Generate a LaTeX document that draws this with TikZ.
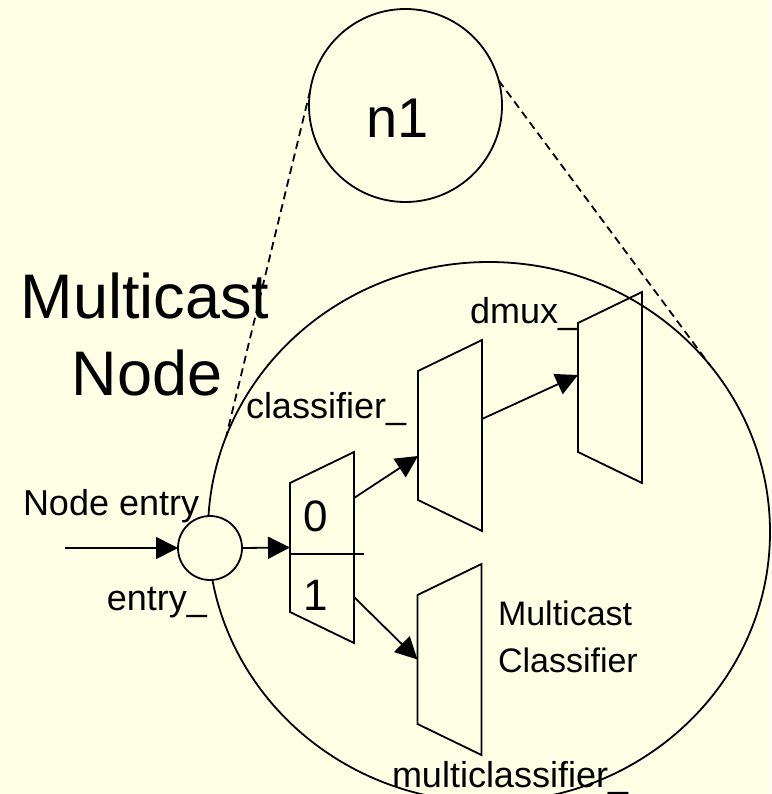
\documentclass[tikz,border=0pt]{standalone}
\usepackage{fontspec}
\setmainfont{Liberation Sans}
\usetikzlibrary{arrows.meta,shapes.geometric}
\definecolor{bgyellow}{RGB}{255,255,230}
\tikzset{
  ln/.style={line width=1.8pt},
  arr/.style={ln, -{Triangle[length=22pt,width=22pt]}},
  dsh/.style={line width=1.8pt, dash pattern=on 8pt off 5pt},
  muxframe/.style={minimum width=64pt, minimum height=191pt, inner sep=0pt, outer sep=0pt},
  lbl/.style={font=\fontsize{36}{43}\selectfont, inner sep=0pt, outer sep=0pt},
  midlbl/.style={font=\fontsize{34}{41}\selectfont, inner sep=0pt, outer sep=0pt},
  biglbl/.style={font=\fontsize{63}{77}\selectfont, inner sep=0pt, outer sep=0pt},
  digit/.style={font=\fontsize{44}{52}\selectfont, inner sep=0pt, outer sep=0pt},
}
\newcommand{\muxdraw}[1]{%
  \draw[ln] ([yshift=-31pt]#1.north west) -- (#1.north east) -- (#1.south east) -- ([yshift=31pt]#1.south west) -- cycle;}
\begin{document}
\begin{tikzpicture}[x=1pt,y=-1pt]
\useasboundingbox[fill=bgyellow] (0,0) rectangle (771,794);
% big ellipse (multicast node)
\node[draw, ln, ellipse, minimum width=562pt, minimum height=540pt, inner sep=0pt, outer sep=0pt] (big) at (489,532) {};
% top circle n1
\node[draw, ln, circle, minimum size=193pt, inner sep=0pt, outer sep=0pt] (n1) at (405.5,105.5) {};
\node[font=\fontsize{56}{66}\selectfont, inner sep=0pt, anchor=base] (n1lbl) at (397.5,138) {n1};
% muxes
\node[muxframe] (m1) at (322,547.5) {};
\node[muxframe] (m2) at (450,435.5) {};
\node[muxframe] (m3) at (610,387.5) {};
\node[muxframe] (m4) at (449.5,659.5) {};
\muxdraw{m1}
\muxdraw{m2}
\muxdraw{m3}
\muxdraw{m4}
\draw[ln] ([yshift=-6.5pt]m1.west) -- ++(74,0);
\node[digit, anchor=base] (d0) at (316,531) {0};
\node[digit, anchor=base] (d1) at (316,610) {1};
% labels
\node[biglbl, anchor=base] (t1) at (145,318) {Multicast};
\node[biglbl, anchor=base] (t2) at (147,395) {Node};
\node[lbl, anchor=base west] (ne) at (23,515) {Node entry};
\node[lbl, anchor=base east] (en) at (207,610) {entry\_};
\node[lbl, anchor=base west] (cl) at (246,418) {classifier\_};
\node[lbl, anchor=base west] (dm) at (470,323) {dmux\_};
\node[lbl, anchor=base west] (mc) at (392,787) {multiclassifier\_};
\node[midlbl, anchor=base west] (mcl1) at (498,625) {Multicast};
\node[midlbl, anchor=base west] (mcl2) at (498,672) {Classifier};
% entry circle
\node[draw, ln, circle, fill=bgyellow, minimum size=64pt, inner sep=0pt, outer sep=0pt] (e) at (210,548) {};
\coordinate (in) at (65,548);
% arrows
\draw[arr] (in) -- (e.west);
\draw[arr] (e.east) -- (m1.west);
\draw[arr] ([yshift=49.5pt]m1.east) -- ([yshift=-20.5pt]m2.west);
\draw[arr] ([yshift=-49.5pt]m1.east) -- (m4.west);
\draw[arr] ([yshift=16.5pt]m2.east) -- ([yshift=12.5pt]m3.west);
% dashed zoom lines
\draw[dsh] (n1.171) -- (big.160.6);
\draw[dsh] (n1.15) -- (big.37.2);
\end{tikzpicture}
\end{document}
